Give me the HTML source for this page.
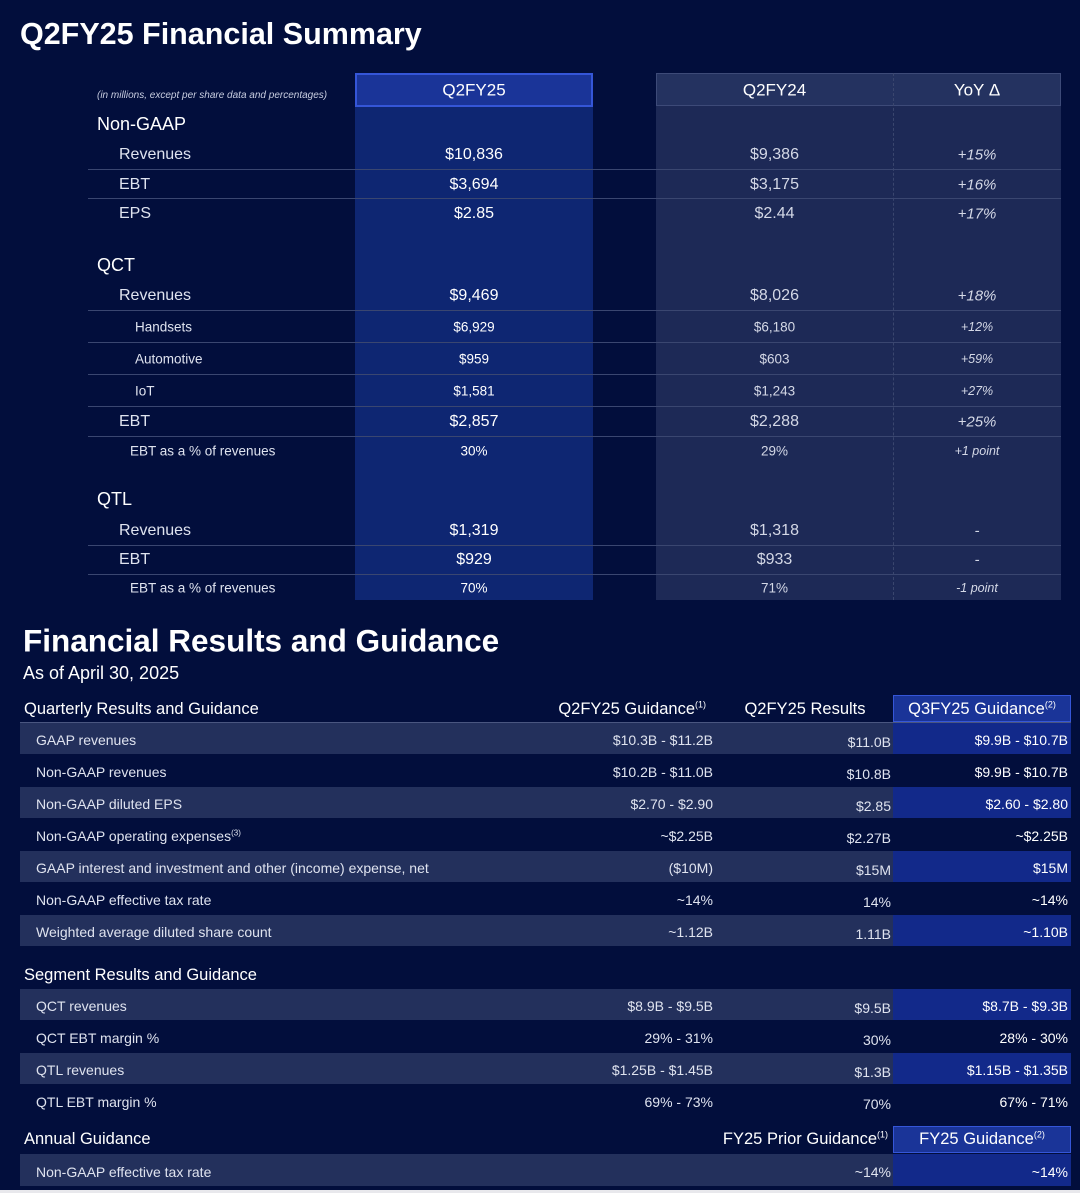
<!DOCTYPE html>
<html><head><meta charset="utf-8"><style>
body{margin:0;width:1080px;height:1193px;background:#020e3c;overflow:hidden;font-family:"Liberation Sans",sans-serif;color:#fff;position:relative}
.a{position:absolute;white-space:nowrap}
.t{line-height:1;transform:translateY(-50%)}
</style></head><body>
<div class="a t" style="left:20px;top:34px;font-size:30.5px;font-weight:bold">Q2FY25 Financial Summary</div>
<div class="a" style="left:355px;top:73px;width:238px;height:527px;background:#0e2672"></div>
<div class="a" style="left:355px;top:73px;width:234px;height:30px;background:#1a3498;border:2px solid #3556d8"></div>
<div class="a" style="left:656px;top:73px;width:405px;height:527px;background:#1d2956"></div>
<div class="a" style="left:656px;top:73px;width:403px;height:31px;background:#243260;border:1px solid #3d4a78"></div>
<div class="a" style="left:893px;top:73px;width:0;height:527px;border-left:1px dashed #3a466e"></div>
<div class="a t" style="left:97px;top:96px;font-size:10px;font-style:italic;color:#c8cde0">(in millions, except per share data and percentages)</div>
<div class="a t" style="left:355px;width:238px;text-align:center;top:90px;font-size:17px">Q2FY25</div>
<div class="a t" style="left:656px;width:237px;text-align:center;top:90px;font-size:17px">Q2FY24</div>
<div class="a t" style="left:893px;width:168px;text-align:center;top:90px;font-size:17px">YoY Δ</div>
<div id="topc"></div>

<div class="a t" style="left:23px;top:641px;font-size:31.5px;font-weight:bold">Financial Results and Guidance</div>
<div class="a t" style="left:23px;top:673px;font-size:18px">As of April 30, 2025</div>
<div id="botc"></div>
<div class="a" style="left:0;top:1190px;width:1080px;height:3px;background:#e8e8ec"></div>

<script>
// Top table data
const topLabels=["Non-GAAP","Revenues","EBT","EPS","QCT","Revenues","Handsets","Automotive","IoT","EBT","EBT as a % of revenues","QTL","Revenues","EBT","EBT as a % of revenues"];
const topLevel=[0,1,1,1,0,1,2,2,2,1,3,0,1,1,3];
const topY=[123,154,184,213,264,295,326,358,390,421,450,498,530,559,587];
const curVals=["","$10,836","$3,694","$2.85","","$9,469","$6,929","$959","$1,581","$2,857","30%","","$1,319","$929","70%"];
const priorVals=["","$9,386","$3,175","$2.44","","$8,026","$6,180","$603","$1,243","$2,288","29%","","$1,318","$933","71%"];
const yoyVals=["","+15%","+16%","+17%","","+18%","+12%","+59%","+27%","+25%","+1 point","","-","-","-1 point"];
const topLines=[169,198,310,342,374,406,436,545,574];

function el(parent,name,css,text){
  const d=document.createElement('div');
  d.className='a'+(text!==undefined?' t':'');
  
  
  d.style.cssText=css;
  if(text!==undefined)d.innerHTML=text;
  parent.appendChild(d);return d;
}
const topC=document.getElementById('topc');
topLines.forEach(y=>el(topC,'row-divider',`left:88px;top:${y}px;width:973px;height:1px;background:#3a4670`));
topLabels.forEach((l,i)=>{
  const y=topY[i]+1,lv=topLevel[i];
  const x=[97,119,135,130][lv],fs=[18,16,13.5,13.5][lv];
  el(topC,'row-label',`left:${x}px;top:${y}px;font-size:${fs}px;color:${lv?'#dfe3ef':'#fff'};${lv?'':'font-weight:500'}`,l);
  const vs=lv>=2?13.5:16;
  el(topC,'q2fy25-value',`left:355px;width:238px;text-align:center;top:${y}px;font-size:${vs}px`,curVals[i]);
  el(topC,'q2fy24-value',`left:656px;width:237px;text-align:center;top:${y}px;font-size:${vs}px;color:#d4d8e6`,priorVals[i]);
  el(topC,'yoy-value',`left:893px;width:168px;text-align:center;top:${y}px;font-size:${vs-1}px;font-style:italic;color:#d4d8e6`,yoyVals[i]);
});

// Bottom table data
const botLabels=["GAAP revenues","Non-GAAP revenues","Non-GAAP diluted EPS","Non-GAAP operating expenses<sup style='font-size:8px'>(3)</sup>","GAAP interest and investment and other (income) expense, net","Non-GAAP effective tax rate","Weighted average diluted share count","QCT revenues","QCT EBT margin %","QTL revenues","QTL EBT margin %"];
const botTop=[723,755,787,819,851,883,915,989,1021,1053,1085];
const guideVals=["$10.3B - $11.2B","$10.2B - $11.0B","$2.70 - $2.90","~$2.25B","($10M)","~14%","~1.12B","$8.9B - $9.5B","29% - 31%","$1.25B - $1.45B","69% - 73%"];
const resultVals=["$11.0B","$10.8B","$2.85","$2.27B","$15M","14%","1.11B","$9.5B","30%","$1.3B","70%"];
const nextVals=["$9.9B - $10.7B","$9.9B - $10.7B","$2.60 - $2.80","~$2.25B","$15M","~14%","~1.10B","$8.7B - $9.3B","28% - 30%","$1.15B - $1.35B","67% - 71%"];
const stripe=[1,0,1,0,1,0,1,1,0,1,0];
const botC=document.getElementById('botc');
botLabels.forEach((l,i)=>{
  const y=botTop[i],c=y+17;
  if(stripe[i]){
    el(botC,'striped-row',`left:20px;top:${y}px;width:873px;height:31px;background:#23305c`);
    el(botC,'highlight-cell',`left:893px;top:${y}px;width:178px;height:31px;background:#12298a`);
  }
  el(botC,'metric-label',`left:36px;top:${c}px;font-size:14px;color:#dfe3ef`,l);
  el(botC,'prior-guidance-value',`right:${1080-713}px;top:${c}px;font-size:14px;color:#dfe3ef`,guideVals[i]);
  el(botC,'result-value',`right:${1080-891}px;top:${c+2}px;font-size:14px;color:#dfe3ef`,resultVals[i]);
  el(botC,'new-guidance-value',`right:${1080-1068}px;top:${c}px;font-size:14px;color:#fff`,nextVals[i]);
});
el(botC,'quarterly-section-title','left:24px;top:709px;font-size:16.5px','Quarterly Results and Guidance');
el(botC,'q2-guidance-header','right:374px;top:709px;font-size:16.5px',"Q2FY25 Guidance<sup style='font-size:9px'>(1)</sup>");
el(botC,'q2-results-header','left:720px;width:170px;text-align:center;top:709px;font-size:16.5px','Q2FY25 Results');
el(botC,'q3-guidance-box','left:893px;top:695px;width:176px;height:25px;background:#1a3498;border:1px solid #3556d8');
el(botC,'q3-guidance-header','left:893px;width:178px;text-align:center;top:709px;font-size:16.5px',"Q3FY25 Guidance<sup style='font-size:9px'>(2)</sup>");
el(botC,'header-rule','left:20px;top:722px;width:1051px;height:1px;background:#4a5680');
el(botC,'segment-section-title','left:24px;top:975px;font-size:16.5px','Segment Results and Guidance');
el(botC,'annual-section-title','left:24px;top:1139px;font-size:16.5px','Annual Guidance');
el(botC,'fy25-prior-header','right:192px;top:1139px;font-size:16.5px',"FY25 Prior Guidance<sup style='font-size:9px'>(1)</sup>");
el(botC,'fy25-guidance-box','left:893px;top:1126px;width:176px;height:25px;background:#1a3498;border:1px solid #3556d8');
el(botC,'fy25-guidance-header','left:893px;width:178px;text-align:center;top:1139px;font-size:16.5px',"FY25 Guidance<sup style='font-size:9px'>(2)</sup>");
el(botC,'annual-row','left:20px;top:1154px;width:873px;height:32px;background:#23305c');
el(botC,'annual-highlight-cell','left:893px;top:1154px;width:178px;height:32px;background:#12298a');
el(botC,'metric-label','left:36px;top:1172px;font-size:14px;color:#dfe3ef','Non-GAAP effective tax rate');
el(botC,'fy25-prior-value','right:189px;top:1172px;font-size:14px;color:#dfe3ef','~14%');
el(botC,'fy25-guidance-value','right:12px;top:1172px;font-size:14px','~14%');
</script>
</body></html>
